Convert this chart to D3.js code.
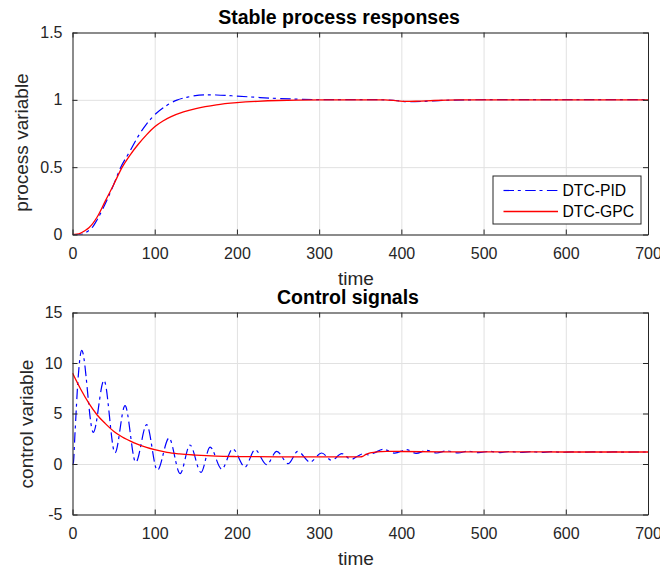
<!DOCTYPE html>
<html>
<head>
<meta charset="utf-8">
<script src="https://cdn.jsdelivr.net/npm/d3@7"></script>
<style>
  body { margin: 0; background: #fff; }
  text { font-family: "Liberation Sans", Arial, Helvetica, sans-serif; }
</style>
</head>
<body>
<div id="container"></div>
<script>
/**
 * DATA
 * */
const xTicks = [0, 100, 200, 300, 400, 500, 600, 700];
const pvTicks = [0, 0.5, 1, 1.5];
const cvTicks = [-5, 0, 5, 10, 15];
const seriesNames = ["DTC-PID", "DTC-GPC"];

// process variable, DTC-PID
const pvPidTime = [0, 10, 15, 20, 25, 30, 40, 50, 58, 70, 78, 90, 102, 115, 127, 140, 160, 175, 200, 228, 250, 280, 320, 360, 390, 400, 410, 425, 450, 480, 550, 700];
const pvPidValue = [0, 0, 0.01, 0.03, 0.06, 0.11, 0.23, 0.37, 0.49, 0.62, 0.71, 0.82, 0.9, 0.96, 0.998, 1.02, 1.037, 1.036, 1.028, 1.017, 1.01, 1.004, 1.001, 1.002, 0.997, 0.99, 0.986, 0.988, 0.996, 1.0, 1.002, 1.002];

// process variable, DTC-GPC
const pvGpcTime = [0, 5, 10, 15, 20, 30, 40, 50, 60, 70, 80, 90, 100, 110, 120, 135, 150, 175, 200, 225, 250, 300, 380, 395, 405, 420, 440, 470, 500, 700];
const pvGpcValue = [0, 0.002, 0.01, 0.028, 0.05, 0.13, 0.25, 0.37, 0.495, 0.59, 0.67, 0.74, 0.8, 0.843, 0.875, 0.91, 0.935, 0.963, 0.979, 0.989, 0.995, 0.999, 1.0, 0.993, 0.988, 0.99, 0.995, 0.999, 1.0, 1.0];

// control variable, DTC-PID
const cvPidTime = [0, 1, 3, 7, 11.2, 25.3, 38.3, 51.7, 63.9, 76.9, 90.2, 103.2, 117.4, 130.9, 142.9, 156.3, 167.3, 181.5, 194.9, 209.8, 222, 236.2, 248.4, 262.5, 273.9, 288.9, 303, 315.3, 327.5, 339, 347.7, 353.8, 359.9, 367, 378, 392, 406.5, 418, 430.9, 443, 455, 469, 481.6, 494, 507, 520, 532, 545, 557, 570, 582, 595, 607, 620, 632, 645, 657, 670, 682, 700];
const cvPidValue = [0, 0.1, 3, 8.7, 11.25, 3.13, 8.28, 1.09, 5.77, 0.16, 3.89, -0.63, 2.57, -0.96, 1.88, -0.83, 1.68, -0.5, 1.49, -0.3, 1.42, -0.07, 1.25, 0.03, 1.25, 0.2, 1.09, 0.36, 1.03, 0.45, 0.82, 1.02, 0.9, 1.1, 1.45, 1.08, 1.42, 1.05, 1.35, 1.09, 1.3, 1.1, 1.27, 1.12, 1.25, 1.13, 1.24, 1.14, 1.23, 1.15, 1.22, 1.16, 1.21, 1.17, 1.2, 1.17, 1.2, 1.18, 1.19, 1.19];

// control variable, DTC-GPC
const cvGpcTime = [0, 10, 20, 30, 40, 50, 60, 75, 90, 100, 115, 130, 150, 175, 200, 250, 300, 350, 353, 357, 362, 368, 375, 382, 400, 450, 500, 600, 700];
const cvGpcValue = [9.0, 7.4, 6.0, 4.85, 4.0, 3.25, 2.7, 2.1, 1.65, 1.42, 1.15, 1.0, 0.88, 0.78, 0.74, 0.71, 0.7, 0.7, 0.75, 0.95, 1.1, 1.17, 1.22, 1.25, 1.24, 1.21, 1.2, 1.19, 1.19];

/**
 * CONSTANTS
 * */
const width = 660, height = 568;
const axisColor = "#262626", gridColor = "#e1e1e1";
const colors = ["#0000ff", "#ff0000"];
const dashPid = "10.5,3.8,3,4.4";

const svg = d3.select("#container")
  .append("svg")
  .attr("width", width)
  .attr("height", height);

const x = d3.scaleLinear().domain([0, 700]).range([72.5, 648]);

// one panel = one MATLAB style subplot
function panel(opts) {
  const y = d3.scaleLinear().domain(opts.domain).range([opts.bottom, opts.top]);
  const g = svg.append("g");
  const h = opts.bottom - opts.top, w = x.range()[1] - x.range()[0];

  // grid
  g.append("g")
    .attr("transform", `translate(0,${opts.bottom})`)
    .call(d3.axisBottom(x).tickValues(xTicks).tickSize(-h).tickFormat(""))
    .call(s => s.selectAll(".tick line").attr("stroke", gridColor))
    .call(s => s.select(".domain").remove());
  g.append("g")
    .attr("transform", `translate(${x.range()[0]},0)`)
    .call(d3.axisLeft(y).tickValues(opts.ticks).tickSize(-w).tickFormat(""))
    .call(s => s.selectAll(".tick line").attr("stroke", gridColor))
    .call(s => s.select(".domain").remove());

  // lines
  const clipId = "clip" + opts.top;
  g.append("clipPath").attr("id", clipId)
    .append("rect")
    .attr("x", x.range()[0]).attr("y", opts.top)
    .attr("width", w).attr("height", h);

  opts.series.forEach((s, i) => {
    const pts = s.t.map((t, k) => [t, s.v[k]]);
    g.append("path")
      .datum(pts)
      .attr("clip-path", `url(#${clipId})`)
      .attr("fill", "none")
      .attr("stroke", colors[i])
      .attr("stroke-width", i === 0 ? 1.2 : 1.3)
      .attr("stroke-dasharray", i === 0 ? dashPid : null)
      .attr("d", d3.line().curve(d3.curveMonotoneX).x(d => x(d[0])).y(d => y(d[1])));
  });

  // axes, ticks pointing inward on all four sides
  const styleAxis = s => {
    s.select(".domain").attr("stroke", axisColor);
    s.selectAll(".tick line").attr("stroke", axisColor);
    s.selectAll(".tick text").attr("fill", axisColor).style("font-size", "16px");
  };
  g.append("g")
    .attr("transform", `translate(0,${opts.bottom})`)
    .call(d3.axisBottom(x).tickValues(xTicks).tickSizeInner(-5).tickSizeOuter(0).tickPadding(13).tickFormat(d => String(d)))
    .call(styleAxis);
  g.append("g")
    .attr("transform", `translate(0,${opts.top})`)
    .call(d3.axisTop(x).tickValues(xTicks).tickSizeInner(-5).tickSizeOuter(0).tickFormat(""))
    .call(styleAxis);
  g.append("g")
    .attr("transform", `translate(${x.range()[0]},0)`)
    .call(d3.axisLeft(y).tickValues(opts.ticks).tickSizeInner(-5).tickSizeOuter(0).tickPadding(10).tickFormat(d => String(d)))
    .call(styleAxis);
  g.append("g")
    .attr("transform", `translate(${x.range()[1]},0)`)
    .call(d3.axisRight(y).tickValues(opts.ticks).tickSizeInner(-5).tickSizeOuter(0).tickFormat(""))
    .call(styleAxis);

  // texts
  g.append("text")
    .attr("x", opts.titleX).attr("y", opts.top - 9)
    .attr("text-anchor", "middle")
    .style("font-size", "19.5px").style("font-weight", "bold")
    .text(opts.title);
  g.append("text")
    .attr("x", 356).attr("y", opts.bottom + 50.5)
    .attr("text-anchor", "middle")
    .attr("fill", axisColor)
    .style("font-size", "19px")
    .text("time");
  g.append("text")
    .attr("transform", `translate(${opts.labelX},${opts.labelY}) rotate(-90)`)
    .attr("text-anchor", "middle")
    .attr("fill", axisColor)
    .style("font-size", "19px")
    .text(opts.ylabel);

  return g;
}

panel({
  top: 32.5, bottom: 234.5, domain: [0, 1.5], ticks: pvTicks,
  title: "Stable process responses", titleX: 339,
  ylabel: "process variable", labelX: 28, labelY: 142.5,
  series: [{ t: pvPidTime, v: pvPidValue }, { t: pvGpcTime, v: pvGpcValue }]
});

panel({
  top: 312.5, bottom: 514.5, domain: [-5, 15], ticks: cvTicks,
  title: "Control signals", titleX: 348,
  ylabel: "control variable", labelX: 33, labelY: 424,
  series: [{ t: cvPidTime, v: cvPidValue }, { t: cvGpcTime, v: cvGpcValue }]
});

// legend, upper panel
const legend = svg.append("g").attr("transform", "translate(493,176)");
legend.append("rect")
  .attr("width", 148).attr("height", 48)
  .attr("fill", "#fff").attr("stroke", axisColor);
seriesNames.forEach((name, i) => {
  const ly = 14.5 + i * 21;
  legend.append("line")
    .attr("x1", 10.5).attr("x2", 65).attr("y1", ly).attr("y2", ly)
    .attr("stroke", colors[i])
    .attr("stroke-width", i === 0 ? 1.2 : 1.3)
    .attr("stroke-dasharray", i === 0 ? dashPid : null);
  legend.append("text")
    .attr("x", 69.5).attr("y", ly + 5.5)
    .style("font-size", "15.7px")
    .text(name);
});
</script>
</body>
</html>
